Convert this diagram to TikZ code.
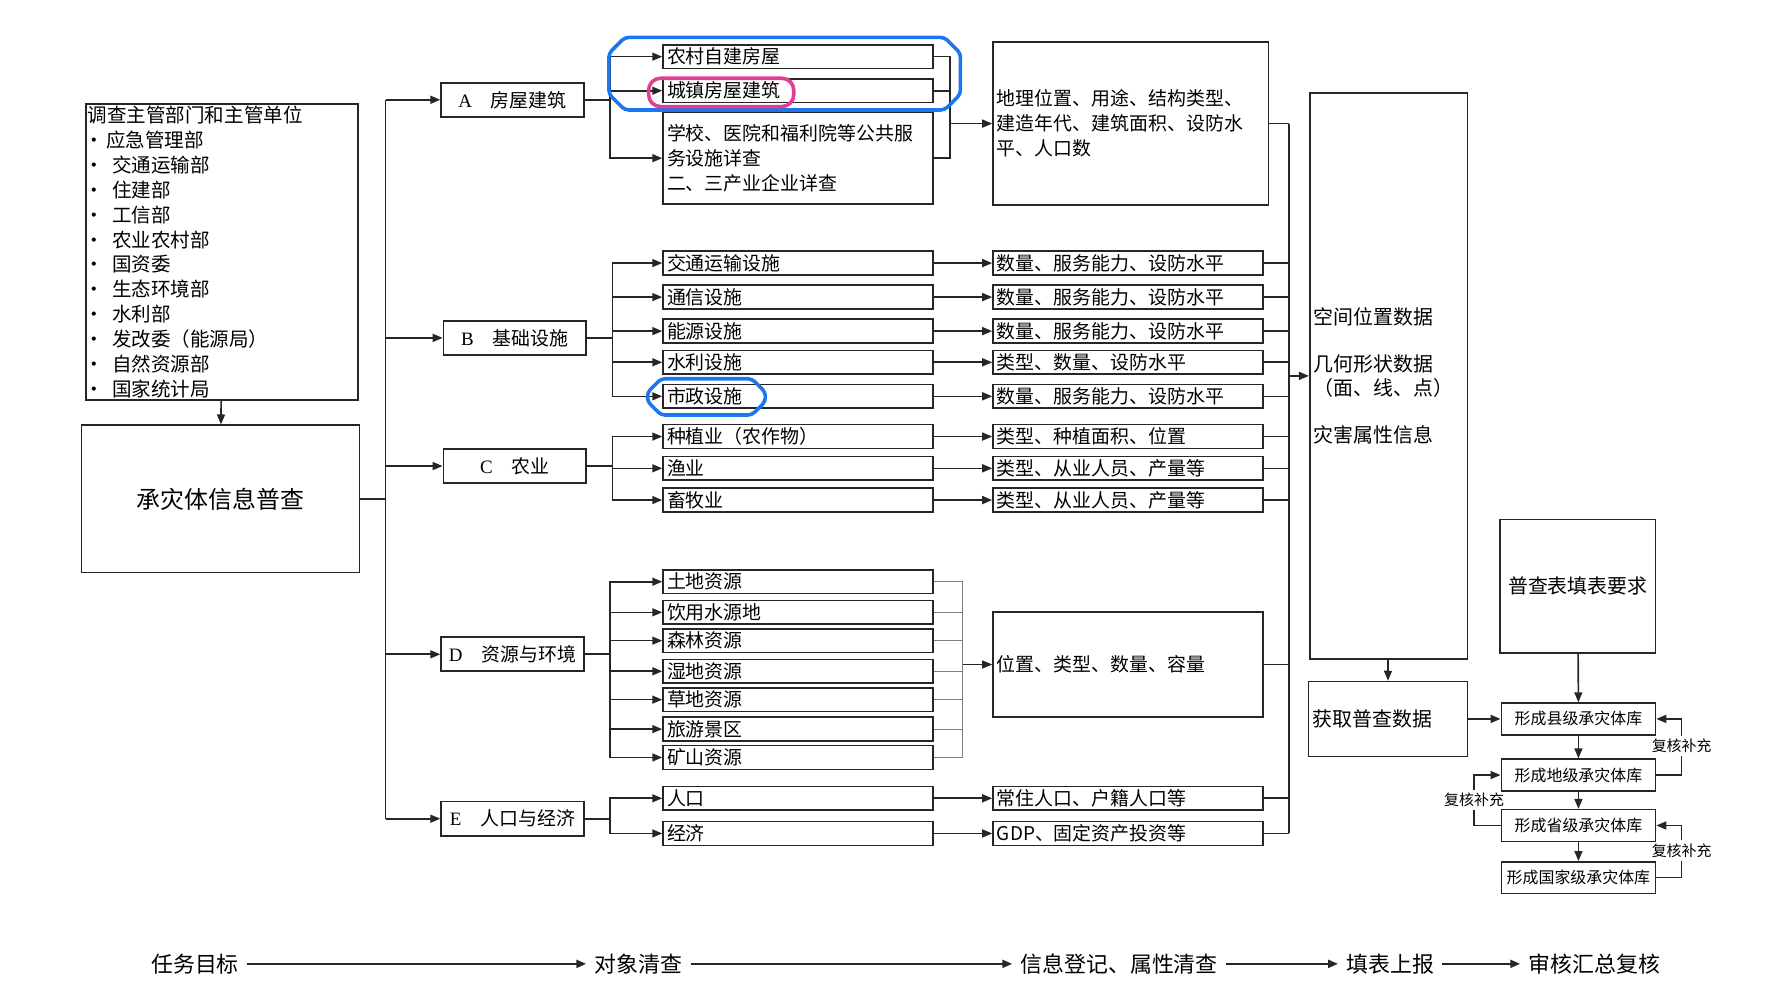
\documentclass[tikz,border=0pt]{standalone}
\usepackage{fontspec}
\setmainfont{Noto Sans CJK SC}
\newfontfamily\capfont{Liberation Serif}
\usepackage{xcolor}
\definecolor{markblue}{RGB}{30,118,238}
\definecolor{markpink}{RGB}{226,62,148}
\usetikzlibrary{arrows.meta}
\newcommand{\deptitem}[1]{\makebox[1.25em][l]{\hspace{-0.15em}·}#1}

\begin{document}
\begin{tikzpicture}[x=0.02cm, y=-0.02cm,
        % Define the styles for the lines, arrows and boxes
        wire/.style={draw=black!85, line width=0.8pt},
        arr/.style={wire, -{Triangle[length=5pt, width=4pt]}},
        box/.style={wire, inner sep=2pt, font=\fontsize{9.5}{12.5}\selectfont},
        cat/.style={box, minimum width=2.52cm, minimum height=0.6cm},
        item/.style={box, anchor=west, align=left, text width=4.62cm, minimum height=0.42cm, inner ysep=0pt},
        tier/.style={box, minimum width=2.72cm, minimum height=0.56cm, font=\fontsize{8}{10}\selectfont},
        note/.style={inner sep=1.5pt, font=\fontsize{7.5}{9}\selectfont},
        phase/.style={inner sep=4pt, font=\fontsize{11}{13}\selectfont},
        hlblue/.style={draw=markblue, line width=1.8pt, rounded corners=2pt},
        hlpink/.style={draw=markpink, line width=1.8pt, rounded corners=6pt}]

    \useasboundingbox (0,0) rectangle (1568,882);

    % 1. Departments and the survey box
    \node[box, anchor=north west, align=left, text width=4.73cm, minimum height=5.18cm, inner sep=1pt,
          font=\fontsize{9.8}{12.5}\selectfont] (dept) at (75,91) {调查主管部门和主管单位\\
        \makebox[0.95em][l]{\hspace{-0.15em}·}应急管理部\\ \deptitem{交通运输部}\\ \deptitem{住建部}\\
        \deptitem{工信部}\\ \deptitem{农业农村部}\\ \deptitem{国资委}\\ \deptitem{生态环境部}\\
        \deptitem{水利部}\\ \deptitem{发改委（能源局）}\\ \deptitem{自然资源部}\\ \deptitem{国家统计局}};
    \node[box, minimum width=4.9cm, minimum height=2.6cm, font=\fontsize{12}{14}\selectfont] (survey) at (194.5,440) {承灾体信息普查};
    \draw[arr] (dept) -- (survey);

    % 2. The five categories on the left bus
    \node[cat] (house) at (452,88) {{\capfont A}\quad 房屋建筑};
    \node[cat] (infra) at (454,298) {{\capfont B}\quad 基础设施};
    \node[cat] (agri) at (454,411) {{\capfont C}\quad 农业};
    \node[cat] (envir) at (452,577) {{\capfont D}\quad 资源与环境};
    \node[cat] (econ) at (452,722) {{\capfont E}\quad 人口与经济};

    \coordinate (busL) at (340,88);
    \draw[wire] (survey.east) -- (survey.east -| busL);
    \draw[wire] (busL) -- (busL |- econ);
    \draw[arr] (busL) -- (house);
    \draw[arr] (busL |- infra) -- (infra);
    \draw[arr] (busL |- agri) -- (agri);
    \draw[arr] (busL |- envir) -- (envir);
    \draw[arr] (busL |- econ) -- (econ);

    % 3. A: houses
    \node[item] (rural) at (584,50) {农村自建房屋};
    \node[item] (urban) at (584,80) {城镇房屋建筑};
    \node[item, minimum height=1.62cm] (public) at (584,139.5) {学校、医院和福利院等公共服\\务设施详查\\二、三产业企业详查};
    \node[item, text width=4.72cm, minimum height=2.88cm] (houseinfo) at (875,109) {地理位置、用途、结构类型、\\建造年代、建筑面积、设防水\\平、人口数};
    \coordinate (brA) at (538,88);
    \coordinate (joinA) at (838,109);
    \draw[arr] (house) -- (brA) |- (rural.west);
    \draw[arr] (brA) |- (urban.west);
    \draw[arr] (brA) |- (public.west);
    \draw[wire] (rural.east) -| (joinA);
    \draw[wire] (urban.east) -| (joinA);
    \draw[wire] (public.east) -| (joinA);
    \draw[arr] (joinA) -- (houseinfo);

    % 4. B: infrastructure
    \node[item] (traffic) at (584,232) {交通运输设施};
    \node[item] (telecom) at (584,262) {通信设施};
    \node[item] (energy) at (584,292) {能源设施};
    \node[item] (water) at (584,319.5) {水利设施};
    \node[item] (municipal) at (584,349.5) {市政设施};
    \node[item] (itraffic) at (875,232) {数量、服务能力、设防水平};
    \node[item] (itelecom) at (875,262) {数量、服务能力、设防水平};
    \node[item] (ienergy) at (875,292) {数量、服务能力、设防水平};
    \node[item] (iwater) at (875,319.5) {类型、数量、设防水平};
    \node[item] (imunicipal) at (875,349.5) {数量、服务能力、设防水平};
    \coordinate (brB) at (540,298);
    \draw[arr] (infra) -- (brB) |- (traffic.west);
    \draw[arr] (brB) |- (telecom.west);
    \draw[arr] (brB) |- (energy.west);
    \draw[arr] (brB) |- (water.west);
    \draw[arr] (brB) |- (municipal.west);
    \draw[arr] (traffic) -- (itraffic);
    \draw[arr] (telecom) -- (itelecom);
    \draw[arr] (energy) -- (ienergy);
    \draw[arr] (water) -- (iwater);
    \draw[arr] (municipal) -- (imunicipal);

    % 5. C: agriculture
    \node[item] (crop) at (584,385) {种植业（农作物）};
    \node[item] (fishery) at (584,413) {渔业};
    \node[item] (livestock) at (584,441) {畜牧业};
    \node[item] (icrop) at (875,385) {类型、种植面积、位置};
    \node[item] (ifishery) at (875,413) {类型、从业人员、产量等};
    \node[item] (ilivestock) at (875,441) {类型、从业人员、产量等};
    \coordinate (brC) at (540,411);
    \draw[arr] (agri) -- (brC) |- (crop.west);
    \draw[arr] (brC) |- (fishery.west);
    \draw[arr] (brC) |- (livestock.west);
    \draw[arr] (crop) -- (icrop);
    \draw[arr] (fishery) -- (ifishery);
    \draw[arr] (livestock) -- (ilivestock);

    % 6. D: resources and environment
    \node[item] (land) at (584,513) {土地资源};
    \node[item] (drink) at (584,540) {饮用水源地};
    \node[item] (forest) at (584,565) {森林资源};
    \node[item] (wetland) at (584,592) {湿地资源};
    \node[item] (grass) at (584,617) {草地资源};
    \node[item] (tour) at (584,643) {旅游景区};
    \node[item] (mine) at (584,668) {矿山资源};
    \node[item, minimum height=1.86cm] (resinfo) at (875,586) {位置、类型、数量、容量};
    \coordinate (brD) at (538,577);
    \coordinate (joinD) at (849,586);
    \draw[arr] (envir) -- (brD) |- (land.west);
    \draw[arr] (brD) |- (drink.west);
    \draw[arr] (brD) |- (forest.west);
    \draw[arr] (brD) |- (wetland.west);
    \draw[arr] (brD) |- (grass.west);
    \draw[arr] (brD) |- (tour.west);
    \draw[arr] (brD) |- (mine.west);
    \draw[gray, line width=0.5pt] (land.east) -| (joinD);
    \draw[gray, line width=0.5pt] (drink.east) -| (joinD);
    \draw[gray, line width=0.5pt] (forest.east) -| (joinD);
    \draw[gray, line width=0.5pt] (wetland.east) -| (joinD);
    \draw[gray, line width=0.5pt] (grass.east) -| (joinD);
    \draw[gray, line width=0.5pt] (tour.east) -| (joinD);
    \draw[gray, line width=0.5pt] (mine.east) -| (joinD);
    \draw[arr, line width=0.5pt] (joinD) -- (resinfo);

    % 7. E: population and economy
    \node[item] (people) at (584,704) {人口};
    \node[item] (economy) at (584,735) {经济};
    \node[item] (ipeople) at (875,704) {常住人口、户籍人口等};
    \node[item] (ieconomy) at (875,735) {GDP、固定资产投资等};
    \coordinate (brE) at (538,722);
    \draw[arr] (econ) -- (brE) |- (people.west);
    \draw[arr] (brE) |- (economy.west);
    \draw[arr] (people) -- (ipeople);
    \draw[arr] (economy) -- (ieconomy);

    % 8. Right bus, data box and the database chain
    \node[box, align=left, text width=2.64cm, minimum height=9.98cm, font=\fontsize{10}{12.5}\selectfont] (data) at (1224.5,331.5)
        {空间位置数据\\[10.8pt]几何形状数据\\（面、线、点）\\[10.8pt]灾害属性信息};
    \node[box, align=left, text width=2.66cm, minimum height=1.32cm, font=\fontsize{10}{12}\selectfont] (fetch) at (1224,634) {获取普查数据};
    \node[box, minimum width=2.74cm, minimum height=2.36cm, font=\fontsize{10}{12}\selectfont] (form) at (1391.5,517) {普查表填表要求};
    \coordinate (busR) at (1137,109);
    \draw[wire] (houseinfo) -- (busR);
    \draw[wire] (busR) -- (busR |- ieconomy);
    \draw[wire] (itraffic.east) -- (itraffic.east -| busR);
    \draw[wire] (itelecom.east) -- (itelecom.east -| busR);
    \draw[wire] (ienergy.east) -- (ienergy.east -| busR);
    \draw[wire] (iwater.east) -- (iwater.east -| busR);
    \draw[wire] (imunicipal.east) -- (imunicipal.east -| busR);
    \draw[wire] (icrop.east) -- (icrop.east -| busR);
    \draw[wire] (ifishery.east) -- (ifishery.east -| busR);
    \draw[wire] (ilivestock.east) -- (ilivestock.east -| busR);
    \draw[wire] (resinfo.east) -- (resinfo.east -| busR);
    \draw[wire] (ipeople.east) -- (ipeople.east -| busR);
    \draw[wire] (ieconomy.east) -- (ieconomy.east -| busR);
    \draw[arr] (data.west -| busR) -- (data.west);
    \draw[arr] (data) -- (fetch);

    \node[tier] (county) at (1392,634) {形成县级承灾体库};
    \node[tier] (city) at (1392,683.5) {形成地级承灾体库};
    \node[tier] (province) at (1392,728) {形成省级承灾体库};
    \node[tier] (nation) at (1392,774) {形成国家级承灾体库};
    \draw[arr] (form) -- (county);
    \draw[arr] (fetch) -- (county);
    \draw[arr] (county) -- (city);
    \draw[arr] (city) -- (province);
    \draw[arr] (province) -- (nation);

    % 9. Feedback loops
    \node[note] (check1) at (1483,658) {复核补充};
    \node[note] (check2) at (1300,705.5) {复核补充};
    \node[note] (check3) at (1483,750) {复核补充};
    \draw[wire] (city.east) -| (check1.south);
    \draw[arr] (check1.north) |- (county.east);
    \draw[wire] (province.west) -| (check2.south);
    \draw[arr] (check2.north) |- (city.west);
    \draw[wire] (nation.east) -| (check3.south);
    \draw[arr] (check3.north) |- (province.east);

    % 10. Highlight marks
    \draw[hlblue] (551,33) -- (833,33) -- (847,47) -- (847,83) -- (833,97) -- (551,97) -- (537,83) -- (537,47) -- cycle;
    \draw[hlpink] (572,69) rectangle (700,94);
    \draw[hlblue] (583,334) -- (663,334) -- (675,346) -- (675,354) -- (663,366) -- (583,366) -- (571,354) -- (571,346) -- cycle;

    % 11. Workflow along the bottom
    \node[phase] (goal) at (172,850) {任务目标};
    \node[phase] (object) at (563,850) {对象清查};
    \node[phase] (register) at (987,850) {信息登记、属性清查};
    \node[phase] (report) at (1226,850) {填表上报};
    \node[phase] (audit) at (1406,850) {审核汇总复核};
    \draw[arr, line width=1.1pt] (goal) -- (object);
    \draw[arr, line width=1.1pt] (object) -- (register);
    \draw[arr, line width=1.1pt] (register) -- (report);
    \draw[arr, line width=1.1pt] (report) -- (audit);

\end{tikzpicture}
\end{document}
